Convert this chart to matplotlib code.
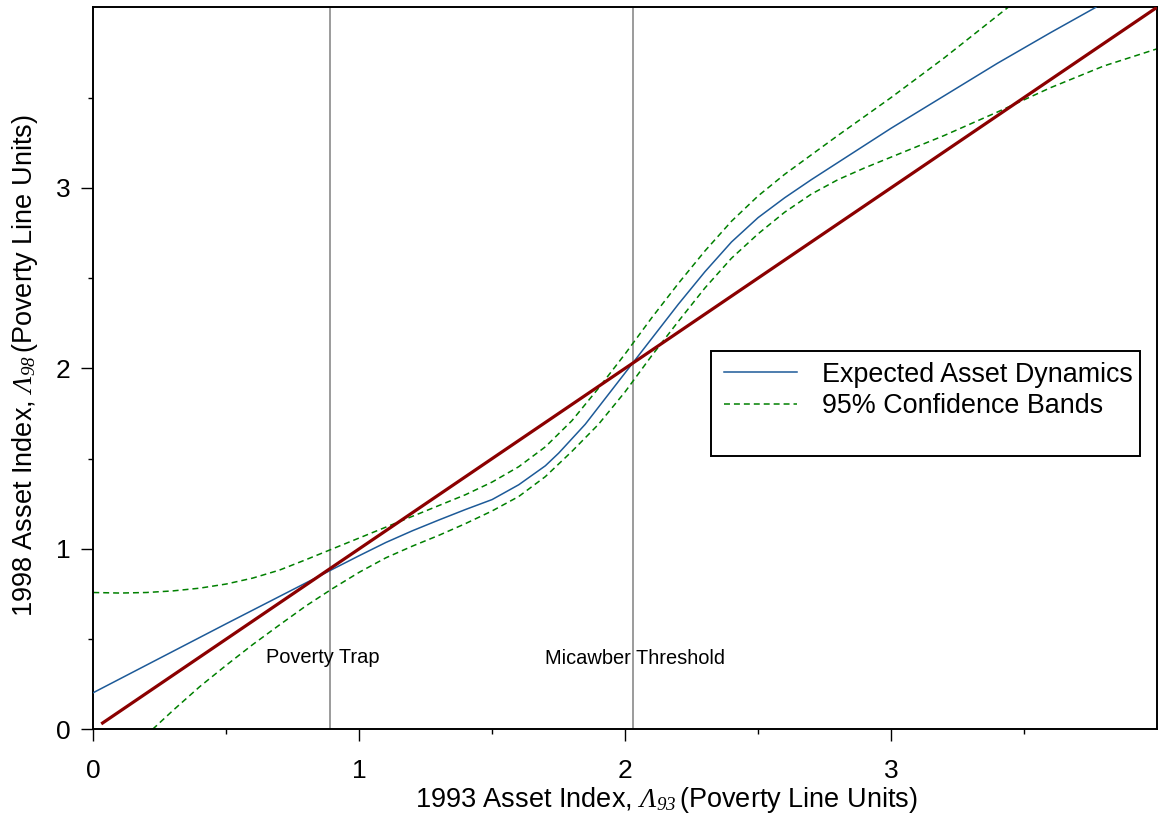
import numpy as np
import matplotlib
matplotlib.use("Agg")
import matplotlib.pyplot as plt
from matplotlib.lines import Line2D
from matplotlib.patches import Rectangle

plt.rcParams['font.family'] = ['Liberation Sans', 'DejaVu Sans']
plt.rcParams['mathtext.fontset'] = 'custom'
plt.rcParams['mathtext.rm'] = 'Liberation Serif:italic'
plt.rcParams['mathtext.it'] = 'Liberation Serif:italic'

# ---- data ----
expected_x = [0.0, 0.5, 0.9, 1.0, 1.1, 1.2, 1.3, 1.4, 1.5, 1.6, 1.7, 1.75,
              1.8, 1.85, 1.9, 1.95, 2.0, 2.1, 2.2, 2.3, 2.4, 2.5, 2.6,
              2.7, 2.8, 3.0, 3.2, 3.4, 3.6, 3.77]
expected_y = [0.203, 0.585, 0.887, 0.962, 1.035, 1.10, 1.16, 1.218, 1.273,
              1.355, 1.46, 1.53, 1.61, 1.69, 1.785, 1.88, 1.975, 2.165,
              2.355, 2.535, 2.70, 2.835, 2.945, 3.045, 3.14, 3.33, 3.51, 3.69,
              3.86, 4.0]

upper_x = [0.0, 0.1, 0.2, 0.3, 0.4, 0.5, 0.6, 0.7, 0.8, 0.9, 1.0, 1.1, 1.2,
           1.3, 1.4, 1.5, 1.6, 1.7, 1.8, 1.9, 2.0, 2.1, 2.2, 2.3, 2.4, 2.5,
           2.6, 2.8, 3.0, 3.2, 3.44]
upper_y = [0.758, 0.755, 0.758, 0.767, 0.782, 0.805, 0.838, 0.882, 0.94, 1.0,
           1.06, 1.12, 1.18, 1.24, 1.30, 1.37, 1.455, 1.565, 1.71, 1.89, 2.08,
           2.28, 2.47, 2.65, 2.815, 2.955, 3.075, 3.29, 3.5, 3.72, 4.0]

lower_x = [0.223, 0.3, 0.4, 0.5, 0.6, 0.7, 0.8, 0.9, 1.0, 1.1, 1.2, 1.3, 1.4,
           1.5, 1.6, 1.7, 1.8, 1.9, 2.0, 2.1, 2.2, 2.3, 2.4, 2.5, 2.6, 2.7,
           2.8, 2.9, 3.0, 3.2, 3.4, 3.6, 3.8, 4.0]
lower_y = [0.0, 0.105, 0.236, 0.355, 0.47, 0.578, 0.684, 0.78, 0.87, 0.95,
           1.015, 1.075, 1.14, 1.21, 1.29, 1.40, 1.54, 1.69, 1.87, 2.07, 2.26,
           2.445, 2.61, 2.745, 2.865, 2.965, 3.045, 3.11, 3.17, 3.29, 3.42,
           3.555, 3.675, 3.77]

diag_x = [0.03, 4.0]
diag_y = [0.03, 4.0]

poverty_trap = 0.89
micawber = 2.03

fig = plt.figure(figsize=(11.6, 8.24), dpi=100)
ax = fig.add_axes([0.0804, 0.1149, 0.917, 0.8762])

ax.axvline(poverty_trap, color='#808080', lw=1.1, zorder=1)
ax.axvline(micawber, color='#808080', lw=1.1, zorder=1)

upper, = ax.plot(upper_x, upper_y, color='#008000', lw=1.1, zorder=2)
lower, = ax.plot(lower_x, lower_y, color='#008000', lw=1.1, zorder=2)
for ln in (upper, lower):
    ln.set_dashes([3.9, 2.6])
ax.plot(expected_x, expected_y, color='#1d5a98', lw=1.1, zorder=3)
ax.plot(diag_x, diag_y, color='#8b0000', lw=2.3, zorder=4,
        solid_capstyle='butt')

ax.text(0.862, 0.40, 'Poverty Trap', fontsize=14.4, ha='center', va='center')
ax.text(2.038, 0.394, 'Micawber Threshold', fontsize=14.4, ha='center',
        va='center')

ax.set_xlim(0, 4)
ax.set_ylim(0, 4)
ax.set_xticks([0, 1, 2, 3])
ax.set_yticks([0, 1, 2, 3])
ax.set_xticks([0.5, 1.5, 2.5, 3.5], minor=True)
ax.set_yticks([0.5, 1.5, 2.5, 3.5], minor=True)
ax.tick_params(which='major', direction='out', length=8.6, width=1.0,
               labelsize=19)
ax.tick_params(which='minor', direction='out', length=3.6, width=1.0)
ax.tick_params(axis='x', which='major', pad=13)
ax.tick_params(axis='y', which='major', pad=8)
for sp in ax.spines.values():
    sp.set_linewidth(1.4)

ax.set_xlabel('1993 Asset Index, $\\Lambda_{93}\\,$(Poverty Line Units)',
              fontsize=19.5)
ax.set_ylabel('1998 Asset Index, $\\Lambda_{98}\\,$(Poverty Line Units)',
              fontsize=19.5)
ax.xaxis.set_label_coords(0.539, -0.098)
ax.yaxis.set_label_coords(-0.064, 0.504)
ax.xaxis.label.set_va('center')
ax.yaxis.label.set_va('center')

# legend box
ax.add_patch(Rectangle((0.581, 0.378), 0.403, 0.1455, transform=ax.transAxes,
                       facecolor='white', edgecolor='black', lw=1.4,
                       zorder=5))
h1 = Line2D([], [], color='#1d5a98', lw=1.1)
h2 = Line2D([], [], color='#008000', lw=1.1, dashes=[3.9, 2.6])
leg = ax.legend([h1, h2], ['Expected Asset Dynamics', '95% Confidence Bands'],
                loc='upper left', bbox_to_anchor=(0.5928, 0.509),
                frameon=False, fontsize=19.4, borderpad=0, borderaxespad=0,
                handlelength=2.7, handletextpad=0.93, labelspacing=0.2)
leg.set_zorder(6)

fig.savefig('out.png', dpi=100)
